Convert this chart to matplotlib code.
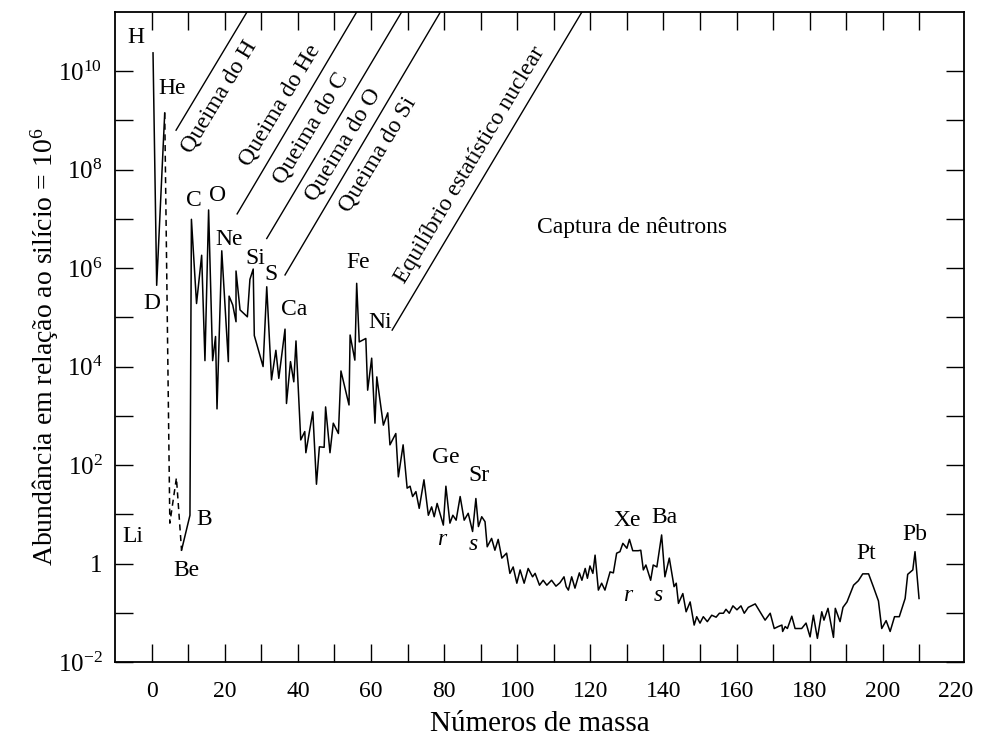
import numpy as np
import matplotlib
matplotlib.use('Agg')
import matplotlib.pyplot as plt

plt.rcParams['font.family'] = 'Liberation Serif'
plt.rcParams['mathtext.fontset'] = 'custom'
plt.rcParams['mathtext.rm'] = 'Liberation Serif'
plt.rcParams['mathtext.it'] = 'Liberation Serif:italic'

# H -> D -> He (mass number, log10 abundance, Si = 1e6)
hd_mass = [0.4, 1.4, 3.6]
hd_log = [10.37, 5.65, 9.15]

# He -> Li -> Be, dashed
light_mass = [3.6, 5.0, 6.8, 8.2]
light_log = [9.15, 0.82, 1.74, 0.27]

# Be, B, C ... Pb
main_mass = [8.2, 10.5, 10.9, 12.3, 13.7, 14.6, 15.6, 16.7, 17.5, 17.9,
             19.2, 21.0, 21.2, 22.2, 23.1, 23.1, 24.2, 26.2, 26.9, 27.8,
             28.1, 30.5, 31.5, 32.8, 34.0, 34.8, 36.5, 36.9, 38.0, 38.9,
             39.5, 40.8, 41.9, 42.2, 44.1, 45.1, 45.9, 47.2, 47.6, 48.8,
             49.7, 51.1, 51.8, 54.0, 54.3, 55.6, 56.1, 56.8, 58.6, 59.1,
             60.2, 61.1, 61.6, 63.4, 64.6, 65.2, 66.8, 67.5, 68.8, 69.9,
             70.7, 71.4, 72.3, 73.2, 74.5, 75.7, 76.6, 77.3, 78.1, 79.8,
             80.5, 81.6, 82.4, 83.3, 84.4, 85.5, 86.6, 87.8, 88.7, 89.4,
             90.3, 91.2, 91.8, 93.0, 93.9, 94.8, 95.8, 97.1, 98.0, 98.9,
             99.9, 100.8, 101.9, 103.0, 104.2, 104.9, 106.1, 107.1, 108.1, 109.4,
             110.6, 111.7, 112.8, 113.4, 114.0, 114.9, 115.8, 117.0, 117.7, 118.6,
             119.2, 119.9, 120.7, 121.3, 122.2, 123.1, 124.0, 125.4, 126.3, 127.2,
             128.1, 128.9, 130.0, 130.7, 131.6, 133.1, 133.8, 134.5, 135.2, 136.5,
             137.2, 138.2, 139.5, 140.4, 141.6, 142.9, 143.5, 144.1, 145.3, 146.2,
             147.3, 148.4, 149.1, 150.0, 150.9, 152.0, 153.2, 154.4, 155.3, 156.4,
             157.1, 158.0, 159.0, 160.1, 161.2, 162.1, 163.2, 165.1, 166.4, 167.8,
             169.2, 170.3, 171.4, 172.4, 172.6, 173.3, 173.9, 175.1, 176.0, 177.8,
             179.0, 180.1, 181.0, 182.1, 183.3, 183.9, 185.0, 186.5, 187.0, 188.3,
             189.1, 190.2, 192.0, 193.3, 194.5, 196.1, 197.4, 198.8, 199.7, 200.9,
             202.0, 203.2, 204.5, 206.1, 206.8, 208.2, 208.8, 209.9]
main_log = [0.27, 0.98, 6.99, 5.28, 6.26, 4.12, 7.18, 4.12, 4.61, 3.14,
            6.35, 4.10, 5.43, 5.25, 4.91, 5.94, 5.15, 5.01, 5.77, 5.98,
            4.63, 4.00, 5.62, 3.73, 4.33, 3.76, 4.76, 3.25, 4.10, 3.69,
            4.52, 2.51, 2.68, 2.25, 3.08, 1.61, 2.37, 2.36, 3.18, 2.25,
            2.85, 2.64, 3.91, 3.22, 4.64, 4.13, 5.69, 4.50, 4.57, 3.52,
            4.17, 2.85, 3.79, 2.81, 3.06, 2.41, 2.64, 1.76, 2.41, 1.53,
            1.57, 1.36, 1.46, 1.12, 1.70, 0.98, 1.15, 0.95, 1.22, 0.78,
            1.57, 0.82, 0.98, 0.88, 1.36, 0.88, 1.02, 0.65, 1.32, 0.75,
            0.95, 0.85, 0.34, 0.51, 0.27, 0.49, 0.11, 0.21, -0.20, -0.07,
            -0.40, -0.13, -0.40, -0.10, -0.27, -0.20, -0.44, -0.34, -0.44, -0.34,
            -0.46, -0.39, -0.27, -0.47, -0.54, -0.27, -0.50, -0.19, -0.34, -0.10,
            -0.30, -0.05, -0.20, 0.17, -0.54, -0.40, -0.54, -0.17, -0.19, 0.21,
            0.24, 0.41, 0.31, 0.49, 0.26, 0.26, 0.27, -0.13, -0.03, -0.34,
            -0.03, -0.07, 0.58, -0.27, 0.11, -0.47, -0.40, -0.81, -0.61, -0.98,
            -0.78, -1.25, -1.08, -1.21, -1.08, -1.18, -1.05, -1.09, -1.01, -1.01,
            -0.93, -1.01, -0.86, -0.94, -0.86, -1.01, -0.89, -0.82, -0.98, -1.15,
            -1.01, -1.32, -1.28, -1.25, -1.38, -1.28, -1.32, -1.07, -1.32, -1.32,
            -1.21, -1.49, -1.05, -1.52, -0.98, -1.15, -0.91, -1.50, -0.91, -1.18,
            -0.89, -0.78, -0.44, -0.35, -0.21, -0.21, -0.47, -0.76, -1.32, -1.16,
            -1.38, -1.08, -1.08, -0.71, -0.22, -0.13, 0.24, -0.71]

# element labels: text, mass position, log10 position
elem_text = ['H', 'He', 'D', 'C', 'O', 'Ne', 'Si', 'S', 'Ca', 'Fe', 'Ni',
             'Li', 'B', 'Be', 'Ge', 'Sr', 'Xe', 'Ba', 'Pt', 'Pb']
elem_mass = [-4.3, 5.5, 0.1, 11.6, 18.1, 21.1, 28.5, 32.6, 38.9, 56.4, 62.5,
             -5.1, 14.3, 9.4, 80.5, 89.6, 130.1, 140.2, 195.4, 208.8]
elem_log = [10.69, 9.65, 5.29, 7.38, 7.48, 6.57, 6.20, 5.86, 5.15, 6.12, 4.90,
            0.54, 0.90, -0.15, 2.16, 1.78, 0.88, 0.94, 0.21, 0.58]

# r / s process marks
proc_text = ['r', 's', 'r', 's']
proc_mass = [79.3, 88.0, 130.2, 138.6]
proc_log = [0.48, 0.38, -0.64, -0.64]

# burning stage boundaries (start mass, start log, end mass, end log)
stage_lines = [(6.7, 8.80, 26.1, 11.2),
               (23.4, 7.10, 56.1, 11.2),
               (31.5, 6.60, 68.4, 11.2),
               (36.5, 5.86, 79.0, 11.2),
               (65.8, 4.74, 117.7, 11.2)]
stage_text = ['Queima do H', 'Queima do He', 'Queima do C', 'Queima do O',
              'Queima do Si', 'Equilíbrio estatístico nuclear']
stage_mass = [18.6, 35.1, 43.6, 52.4, 61.9, 87.1]
stage_log = [9.47, 9.31, 8.84, 8.50, 8.31, 8.09]

fig = plt.figure(figsize=(9.82, 7.38), dpi=100)
ax = fig.add_axes([115 / 982, 1 - 662 / 738, 849 / 982, 650 / 738])

ax.plot(hd_mass, 10.0 ** np.array(hd_log), 'k-', lw=1.1)
ax.plot(light_mass, 10.0 ** np.array(light_log), 'k-', lw=1.1, dashes=(4, 3))
ax.plot(main_mass, 10.0 ** np.array(main_log), 'k-', lw=1.1)

for x0, l0, x1, l1 in stage_lines:
    ax.plot([x0, x1], [10.0 ** l0, 10.0 ** l1], 'k-', lw=1.0)
for s, m, l in zip(stage_text, stage_mass, stage_log):
    ax.text(m, 10.0 ** l, s, rotation=59, ha='center', va='center',
            fontsize=17, rotation_mode='anchor')
ax.text(131.4, 10.0 ** 6.83, 'Captura de nêutrons', ha='center', va='center',
        fontsize=17)

for s, m, l in zip(elem_text, elem_mass, elem_log):
    ax.text(m, 10.0 ** l, s, ha='center', va='center', fontsize=17)
for s, m, l in zip(proc_text, proc_mass, proc_log):
    ax.text(m, 10.0 ** l, s, ha='center', va='center', fontsize=17,
            style='italic')

ax.set_yscale('log')
ax.set_xlim(-10, 222.2)
ax.set_ylim(1e-2, 10.0 ** 11.2)

ax.set_xticks(range(0, 221, 20))
ax.set_xticks(range(10, 211, 20), minor=True)
ylabels = ['$10^{-2}$', '1'] + ['$10^{%d}$' % k for k in range(2, 11, 2)]
ax.set_yticks([10.0 ** k for k in range(-2, 11, 2)], ylabels)
ax.set_yticks([10.0 ** k for k in range(-1, 10, 2)], minor=True)
ax.yaxis.set_minor_formatter(plt.NullFormatter())
ax.tick_params(which='both', direction='in', top=True, right=True,
               length=13, width=1.0, labelsize=17)
ax.tick_params(axis='x', pad=14)
ax.tick_params(axis='y', which='major', labelsize=18, pad=9)
last = ax.xaxis.get_major_ticks()[-1]
last.tick1line.set_visible(False)
last.tick2line.set_visible(False)

for sp in ax.spines.values():
    sp.set_linewidth(1.3)

ax.set_xlabel('Números de massa', fontsize=21, labelpad=6)
ax.set_ylabel('Abundância em relação ao silício = $10^6$', fontsize=20)
ax.yaxis.set_label_coords(-0.064, 0.485)

fig.savefig('out.png', dpi=100)
